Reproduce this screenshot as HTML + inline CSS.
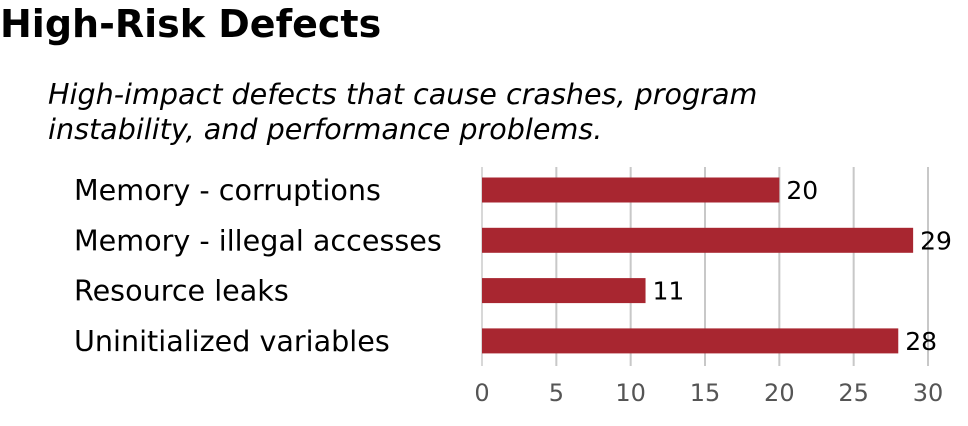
<!DOCTYPE html>
<html><head><meta charset="utf-8"><style>
body{margin:0;width:968px;height:422px;background:#fff;overflow:hidden;font-family:"DejaVu Sans","Liberation Sans",sans-serif}
</style></head><body>
<svg width="968" height="422" xmlns="http://www.w3.org/2000/svg" font-family="DejaVu Sans, Liberation Sans, sans-serif">
<text x="0" y="37" font-size="38" font-weight="bold" fill="#000">High-Risk Defects</text>
<text x="48" y="104" font-size="28.6" font-style="italic" fill="#000"><tspan x="48" y="104">High-impact defects that cause crashes, program</tspan><tspan x="48" y="139">instability, and performance problems.</tspan></text>
<g id="grid"></g><g id="bars"></g><g id="labels"></g>
</svg>
<script>
const categories=["Memory - corruptions","Memory - illegal accesses","Resource leaks","Uninitialized variables"];
const values=[20,29,11,28];
const ticks=[0,5,10,15,20,25,30];
const ns="http://www.w3.org/2000/svg";
const x0=482,x1=928,xmax=30;
const xs=v=>x0+(x1-x0)*v/xmax;
const rowY=i=>190+i*50.3;
function mk(t,a,p,txt){const e=document.createElementNS(ns,t);for(const k in a)e.setAttribute(k,a[k]);if(txt!==undefined)e.textContent=txt;p.appendChild(e);return e;}
const g=document.getElementById('grid'),b=document.getElementById('bars'),l=document.getElementById('labels');
ticks.forEach(t=>{
 const ln=mk('line',{x1:xs(t),x2:xs(t),y1:167,y2:366,stroke:t===0?'#d8d8d8':'#c8c8c8','stroke-width':2},g);
 
 
 const tx=mk('text',{x:xs(t),y:401,'text-anchor':'middle','font-size':24,fill:'#555'},g,String(t));
 
 
});
categories.forEach((c,i)=>{
 const y=rowY(i);
 const r=mk('rect',{x:x0,y:y-12.5,width:xs(values[i])-x0,height:25,fill:'#a82630'},b);
 
 
 const v=mk('text',{x:xs(values[i])+7,y:y+9,'font-size':25,fill:'#000'},l,String(values[i]));
 
 
 const ct=mk('text',{x:74,y:y+10,'font-size':28.6,fill:'#000'},l,c);
 
 
});
</script>
</body></html>
